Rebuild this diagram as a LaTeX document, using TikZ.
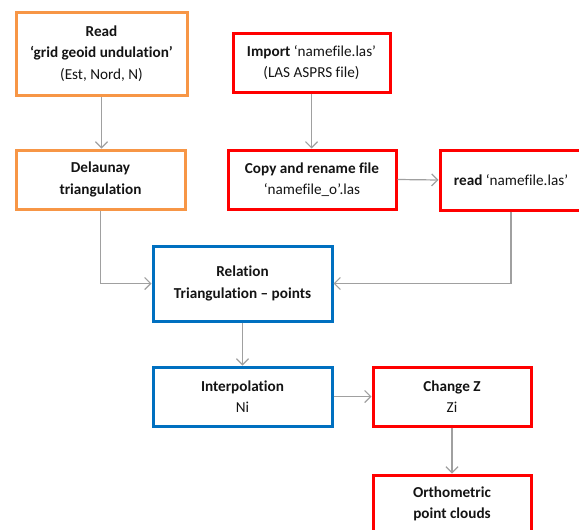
\documentclass[tikz,border=0pt]{standalone}
\usepackage{fontspec}
\setmainfont{Carlito}[Ligatures={NoCommon}]
\usetikzlibrary{arrows.meta}
\definecolor{boxorange}{HTML}{F79646}
\definecolor{boxred}{HTML}{FF0000}
\definecolor{boxblue}{HTML}{0070C0}
\definecolor{linkgray}{HTML}{A0A0A0}
\definecolor{txt}{HTML}{141414}
\tikzset{
  box/.style={draw, line width=3pt, fill=white, align=center, inner sep=0pt,
    font=\fontsize{15.2}{21.5}\selectfont, text=txt},
  obox/.style={box, draw=boxorange},
  rbox/.style={box, draw=boxred},
  bbox/.style={box, draw=boxblue},
  link/.style={draw=linkgray, line width=1.2pt, -{Straight Barb[length=6pt,width=12pt]}},
}
\begin{document}
\begin{tikzpicture}[x=1pt,y=-1pt]
\useasboundingbox (0,0) rectangle (579,530);
\clip (0,0) rectangle (579,530);
\node[obox, minimum width=171, minimum height=83] (read) at (101.5,53.5)
  {\textbf{Read}\\\textbf{‘grid geoid undulation’}\\(Est, Nord, N)};
\node[rbox, minimum width=157, minimum height=59] (import) at (311.5,62.5)
  {\textbf{Import} ‘namefile.las’\\(LAS ASPRS file)};
\node[obox, minimum width=169, minimum height=59] (delaunay) at (100.5,179.5)
  {\textbf{Delaunay}\\\textbf{triangulation}};
\node[rbox, minimum width=168, minimum height=59] (copy) at (312,179.5)
  {\textbf{Copy and rename file}\\‘namefile\_o’.las};
\node[rbox, minimum width=142, minimum height=60] (readlas) at (511,180)
  {\textbf{read} ‘namefile.las’};
\node[bbox, minimum width=179, minimum height=75] (relation) at (242.5,283.5)
  {\textbf{Relation}\\\textbf{Triangulation – points}};
\node[bbox, minimum width=179, minimum height=59] (interp) at (242.5,396.5)
  {\textbf{Interpolation}\\Ni};
\node[rbox, minimum width=158, minimum height=59] (change) at (452,396.5)
  {\textbf{Change Z}\\Zi};
\node[rbox, minimum width=158, minimum height=58] (ortho) at (452,504)
  {\textbf{Orthometric}\\\textbf{point clouds}};
\path[link] (read.south) -- (read.south |- delaunay.north);
\path[link] (import.south) -- (import.south |- copy.north);
\path[link] (copy.east) -- (readlas.west);
\path[link] (delaunay.south) |- (relation.west);
\path[link] (readlas.south) |- (relation.east);
\path[link] (relation.south) -- (interp.north);
\path[link] (interp.east) -- (change.west);
\path[link] (change.south) -- (ortho.north);
\end{tikzpicture}
\end{document}
